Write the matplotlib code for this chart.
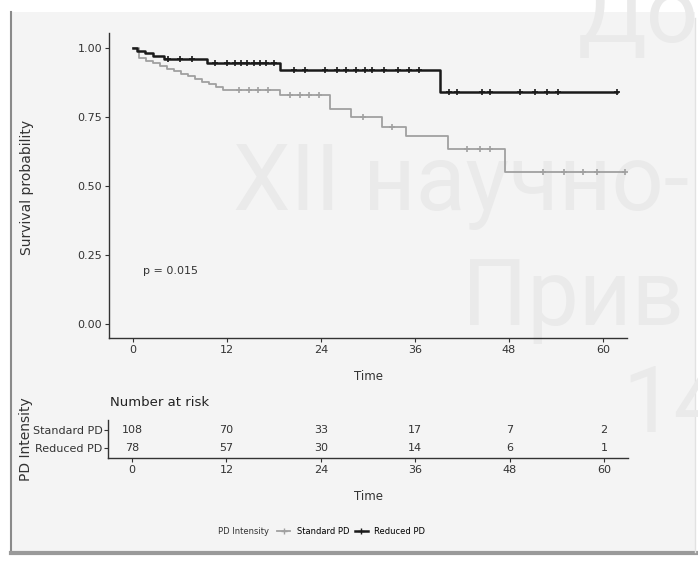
import matplotlib
matplotlib.use("Agg")
import matplotlib.pyplot as plt
from matplotlib.lines import Line2D
from matplotlib.patches import Rectangle
import numpy as np

# Kaplan-Meier steps (time in months, survival)
std_time = [0, 0.8, 1.6, 2.5, 3.4, 4.3, 5.2, 6.1, 7.0, 7.9, 8.8, 9.7, 10.6, 11.5,
            18.8, 25.2, 27.8, 31.8, 34.9, 40.2, 47.5]
std_surv = [1.0, 0.963, 0.954, 0.944, 0.935, 0.925, 0.916, 0.906, 0.897, 0.887,
            0.878, 0.868, 0.859, 0.848, 0.83, 0.778, 0.748, 0.715, 0.68, 0.635, 0.55]
std_end = 62.8
std_cens = [13.5, 14.8, 16.0, 17.2, 20.0, 21.3, 22.5, 23.7, 29.4, 33.0,
            42.7, 44.3, 45.6, 52.4, 55.0, 57.5, 59.2, 62.8]

red_time = [0, 0.5, 1.5, 2.5, 4.0, 9.5, 18.8, 39.2]
red_surv = [1.0, 0.99, 0.98, 0.97, 0.96, 0.947, 0.92, 0.84]
red_end = 61.8
red_cens = [4.5, 6.0, 7.5, 10.5, 12.0, 13.0, 13.8, 14.6, 15.4, 16.2, 17.0, 18.0,
            20.5, 22.0, 24.5, 26.0, 27.2, 28.5, 29.6, 30.5, 32.0, 33.8, 35.2, 36.5,
            40.3, 41.3, 44.6, 45.6, 49.4, 51.3, 52.9, 54.2, 61.8]

risk_times = [0, 12, 24, 36, 48, 60]
risk_std = [108, 70, 33, 17, 7, 2]
risk_red = [78, 57, 30, 14, 6, 1]

groups = ["Standard PD", "Reduced PD"]
c_std = "#a0a0a0"
c_red = "#1a1a1a"
ink = "#333333"

W, H = 698, 562
fig = plt.figure(figsize=(W / 100, H / 100), dpi=100, facecolor="white")


def fx(px):
    return px / W


def fy(py):
    return 1 - py / H


# slide panel behind the chart
fig.patches.append(Rectangle((fx(12), fy(552)), fx(683), (540) / H,
                             transform=fig.transFigure, facecolor="#f4f4f4",
                             edgecolor="none", zorder=-10))
fig.add_artist(Line2D([fx(11), fx(11)], [fy(12), fy(553)], color="#8a8a8a", lw=1.5, zorder=-9))
fig.add_artist(Line2D([fx(11), fx(696)], [fy(553), fy(553)], color="#9a9a9a", lw=3, zorder=-9))
fig.add_artist(Line2D([fx(695), fx(695)], [fy(18), fy(552)], color="#e2e2e2", lw=1, zorder=-9))

# watermark of the slide
wm = dict(color="#eaeaea", fontsize=66, family="Roboto",
          va="baseline", ha="left", zorder=-5)
fig.text(fx(233), fy(210), "XII научно-", **wm)
fig.text(fx(462), fy(325), "Прив", **wm)
fig.text(fx(622), fy(432), "14", **wm)
fig.text(fx(578), fy(42), "До", **wm)

# ---- survival curves ----
ax = fig.add_axes([fx(109), fy(338), fx(627 - 109), (338 - 33) / H])
ax.patch.set_alpha(0)


def steps(t, s, end):
    return list(t) + [end], list(s) + [s[-1]]


def at(t, s, x):
    i = np.searchsorted(t, x, side="right") - 1
    return np.array(s)[i]


for t, s, end, cens, col, lw in [(std_time, std_surv, std_end, std_cens, c_std, 1.3),
                                 (red_time, red_surv, red_end, red_cens, c_red, 1.8)]:
    tx, sy = steps(t, s, end)
    ax.step(tx, sy, where="post", color=col, lw=lw)
    ax.plot(cens, at(t, s, cens), ls="none", marker="+", ms=4.5, mew=1.2, color=col)

ax.text(1.3, 0.19, "p = 0.015", fontsize=8, va="center", ha="left", color=ink)

ax.set_xlim(-3.06, 63.06)
ax.set_ylim(-0.051, 1.054)
ax.set_xticks(risk_times)
ax.set_yticks([0, 0.25, 0.5, 0.75, 1.0])
ax.set_yticklabels(["0.00", "0.25", "0.50", "0.75", "1.00"])
ax.set_xlabel("Time", fontsize=8.5, color=ink)
ax.xaxis.set_label_coords((368 - 109) / 518, -(370 - 338) / 305)
ax.set_ylabel("Survival probability", fontsize=10, color=ink)
ax.yaxis.set_label_coords(-0.145, 0.495)
for sp in ["top", "right"]:
    ax.spines[sp].set_visible(False)
for sp in ["left", "bottom"]:
    ax.spines[sp].set_color(ink)
    ax.spines[sp].set_linewidth(1)
ax.tick_params(colors=ink, labelsize=8, length=3, width=0.8, pad=2)

# ---- risk table ----
tab = fig.add_axes([fx(108), fy(458), fx(628 - 108), (458 - 420) / H])
tab.patch.set_alpha(0)
tab.set_xlim(-3.06, 63.06)
tab.set_ylim(-0.556, 1.556)
for x, a, b in zip(risk_times, risk_std, risk_red):
    tab.text(x, 1, str(a), ha="center", va="center", fontsize=8, color=ink)
    tab.text(x, 0, str(b), ha="center", va="center", fontsize=8, color=ink)
tab.set_xticks(risk_times)
tab.set_yticks([1, 0])
tab.set_yticklabels(groups, fontsize=8)
tab.get_yticklabels()[0].set_color("#d2d2d2")
tab.get_yticklabels()[1].set_color(ink)
for sp in ["top", "right"]:
    tab.spines[sp].set_visible(False)
for sp in ["left", "bottom"]:
    tab.spines[sp].set_color(ink)
    tab.spines[sp].set_linewidth(1)
tab.tick_params(axis="x", colors=ink, labelsize=8, length=3, width=0.8, pad=2)
tab.tick_params(axis="y", colors=ink, length=3, width=0.8, pad=1)
tab.set_xlabel("Time", fontsize=8.5, color=ink)
tab.xaxis.set_label_coords((368 - 108) / 520, -(490 - 458) / 38)
tab.set_ylabel("PD Intensity", fontsize=10, color=ink)
tab.yaxis.set_label_coords(-0.145, 0.5)
fig.text(fx(110), fy(402), "Number at risk", fontsize=9.5, va="center", ha="left", color="#222222")

# ---- legend ----
fig.text(fx(218), fy(531), "PD Intensity", fontsize=6, va="center", ha="left", color=ink)
handles = [Line2D([], [], color=c_std, lw=1.3, marker="+", ms=4),
           Line2D([], [], color=c_red, lw=1.8, marker="+", ms=4)]
fig.legend(handles, groups, ncol=2, loc="center left", bbox_to_anchor=(fx(277), fy(531)),
           fontsize=6, handlelength=1.6, handletextpad=0.8, columnspacing=0.6,
           frameon=False, borderaxespad=0, borderpad=0)

fig.savefig("out.png", dpi=100, facecolor="white")
